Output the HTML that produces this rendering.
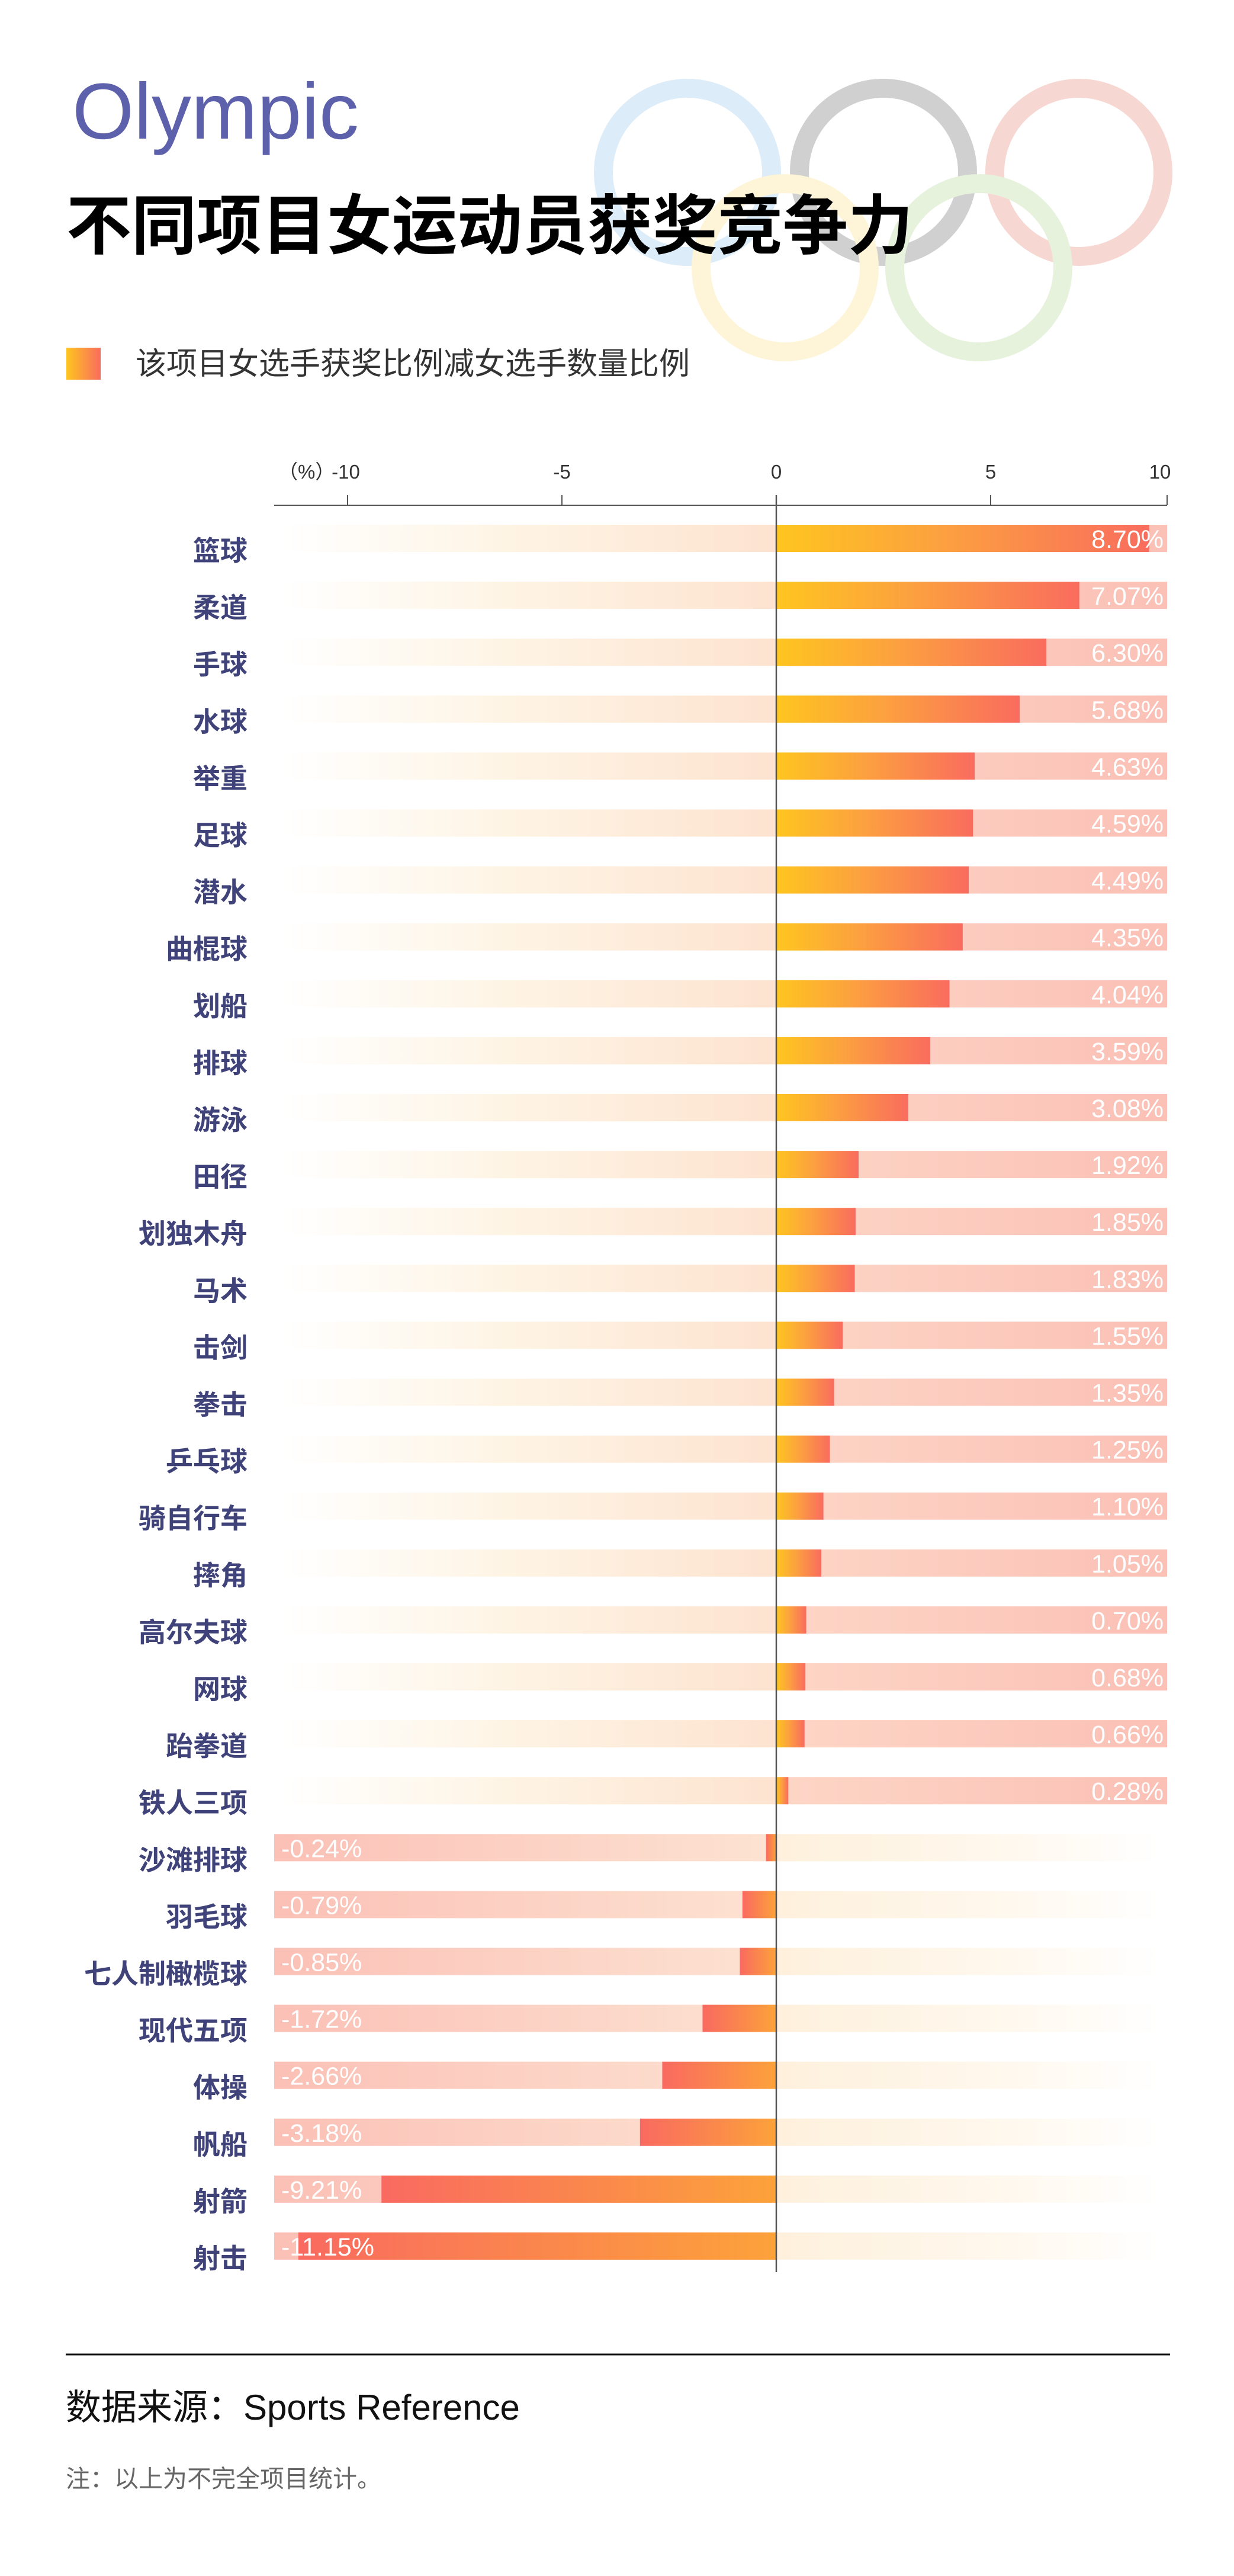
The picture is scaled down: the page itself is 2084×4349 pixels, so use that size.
<!DOCTYPE html>
<html><head><meta charset="utf-8">
<style>
html,body{margin:0;padding:0;background:#fff;}
svg{display:block;}
</style></head>
<body>
<svg id="chart" width="2084" height="4349" viewBox="0 0 2084 4349" xmlns="http://www.w3.org/2000/svg">
<defs>
  <linearGradient id="posBar" x1="0" y1="0" x2="1" y2="0"><stop offset="0" stop-color="#fec51f"/><stop offset="0.45" stop-color="#fca040"/><stop offset="1" stop-color="#f96c5e"/></linearGradient>
  <linearGradient id="negBar" x1="0" y1="0" x2="1" y2="0"><stop offset="0" stop-color="#f96a60"/><stop offset="1" stop-color="#fca23a"/></linearGradient>
  <linearGradient id="pinkR" gradientUnits="userSpaceOnUse" x1="1311" y1="0" x2="1971" y2="0"><stop offset="0" stop-color="#fdd6c6"/><stop offset="1" stop-color="#fbc0b6"/></linearGradient>
  <linearGradient id="pinkL" gradientUnits="userSpaceOnUse" x1="463" y1="0" x2="1311" y2="0"><stop offset="0" stop-color="#fbc0b6"/><stop offset="1" stop-color="#fde3d2"/></linearGradient>
  <linearGradient id="faintL" gradientUnits="userSpaceOnUse" x1="480" y1="0" x2="1311" y2="0"><stop offset="0" stop-color="#fff" stop-opacity="1"/><stop offset="0.45" stop-color="#fef4e4"/><stop offset="1" stop-color="#fde3d0"/></linearGradient>
  <linearGradient id="faintR" gradientUnits="userSpaceOnUse" x1="1311" y1="0" x2="1960" y2="0"><stop offset="0" stop-color="#fef0dc"/><stop offset="0.6" stop-color="#fff8ee"/><stop offset="1" stop-color="#fff"/></linearGradient>
  <linearGradient id="legendG" x1="0" y1="0" x2="1" y2="0"><stop offset="0" stop-color="#fec51f"/><stop offset="1" stop-color="#f96c5e"/></linearGradient>
</defs>
<g fill="none" stroke-width="32">
  <circle cx="1161" cy="291" r="142" stroke="#dcecf8"/>
  <circle cx="1492" cy="291" r="142" stroke="#d0d0d0"/>
  <circle cx="1822" cy="291" r="142" stroke="#f7d7d2"/>
  <circle cx="1326" cy="452" r="142" stroke="#fef4d8"/>
  <circle cx="1653" cy="452" r="142" stroke="#e7f2dd"/>
</g>
<text x="122" y="234" font-family="Liberation Sans, sans-serif" font-size="134" fill="#5d60aa">Olympic</text>
<text x="112" y="420" font-family="Liberation Sans, Noto Sans CJK SC, sans-serif" font-size="110" font-weight="bold" fill="#000">不同项目女运动员获奖竞争力</text>
<rect x="112" y="587" width="58" height="54" fill="url(#legendG)"/>
<text x="229" y="632" font-family="Liberation Sans, Noto Sans CJK SC, sans-serif" font-size="52" fill="#333">该项目女选手获奖比例减女选手数量比例</text>
<text x="470" y="808" font-family="Liberation Sans, Noto Sans CJK SC, sans-serif" font-size="33" fill="#333">（%）</text>
<g id="axis"></g>
<g id="bars"></g>
<line x1="111" y1="3975" x2="1976" y2="3975" stroke="#111" stroke-width="3"/>
<text x="111" y="4085" font-family="Liberation Sans, Noto Sans CJK SC, sans-serif" font-size="60" fill="#111">数据来源：Sports Reference</text>
<text x="111" y="4199" font-family="Liberation Sans, Noto Sans CJK SC, sans-serif" font-size="41" fill="#666">注：以上为不完全项目统计。</text>
</svg>
<script>
const categories = ["篮球","柔道","手球","水球","举重","足球","潜水","曲棍球","划船","排球","游泳","田径","划独木舟","马术","击剑","拳击","乒乓球","骑自行车","摔角","高尔夫球","网球","跆拳道","铁人三项","沙滩排球","羽毛球","七人制橄榄球","现代五项","体操","帆船","射箭","射击"];
const values = [8.70,7.07,6.30,5.68,4.63,4.59,4.49,4.35,4.04,3.59,3.08,1.92,1.85,1.83,1.55,1.35,1.25,1.10,1.05,0.70,0.68,0.66,0.28,-0.24,-0.79,-0.85,-1.72,-2.66,-3.18,-9.21,-11.15];
const tickValues = [-10,-5,0,5,10];
const tickLabels = ["-10","-5","0","5","10"];

const NS = "http://www.w3.org/2000/svg";
const X0 = 1311, UNIT = 72.4, XL = 463, XR = 1971;
const x = v => X0 + v * UNIT;
const ROW0 = 909, STEP = 96.1, BH = 46;
const y = i => ROW0 + i * STEP;
function mk(tag, attrs, parent){const e=document.createElementNS(NS,tag);for(const k in attrs)e.setAttribute(k,attrs[k]);parent.appendChild(e);return e;}
const axis = document.getElementById('axis');
const bars = document.getElementById('bars');
const axLine = mk('line',{x1:XL,y1:853,x2:XR,y2:853,stroke:'#555','stroke-width':2},axis);


tickValues.forEach((t,i)=>{
  const tx = Math.min(x(t), XR);
  const tk = mk('line',{x1:tx,y1:836,x2:tx,y2:853,stroke:'#555','stroke-width':2},axis);
  
  
  const lbx = t===10 ? XR-12 : (t===-10 ? x(t)-3 : x(t));
  const lb = mk('text',{x:lbx,y:808,'text-anchor':'middle','font-family':'Liberation Sans, sans-serif','font-size':33,fill:'#333'},axis);
  lb.textContent = tickLabels[i];
  
  
});
categories.forEach((c,i)=>{
  const v = values[i], top = y(i) - BH/2;
  const g = mk('g',{},bars);
  
  
  if (v >= 0) {
    mk('rect',{x:XL,y:top,width:X0-XL,height:BH,fill:'url(#faintL)'},g);
    mk('rect',{x:x(v),y:top,width:XR-x(v),height:BH,fill:'url(#pinkR)'},g);
    const b = mk('rect',{x:X0,y:top,width:x(v)-X0,height:BH,fill:'url(#posBar)'},g);
    
    
    const t = mk('text',{x:XR-6,y:y(i)+16,'text-anchor':'end','font-family':'Liberation Sans, sans-serif','font-size':43,fill:'#fff'},g);
    t.textContent = v.toFixed(2)+'%';
    
    
  } else {
    mk('rect',{x:X0,y:top,width:XR-X0,height:BH,fill:'url(#faintR)'},g);
    mk('rect',{x:XL,y:top,width:x(v)-XL,height:BH,fill:'url(#pinkL)'},g);
    const b = mk('rect',{x:x(v),y:top,width:X0-x(v),height:BH,fill:'url(#negBar)'},g);
    
    
    const t = mk('text',{x:XL+12,y:y(i)+16,'font-family':'Liberation Sans, sans-serif','font-size':43,fill:'#fff'},g);
    t.textContent = v.toFixed(2)+'%';
    
    
  }
  const l = mk('text',{x:418,y:y(i)+37,'text-anchor':'end','font-family':'Liberation Sans, Noto Sans CJK SC, sans-serif','font-size':46,'font-weight':'600',fill:'#404379'},g);
  l.textContent = c;
  
  
});
const zl = mk('line',{x1:X0,y1:836,x2:X0,y2:3836,stroke:'#555','stroke-width':2.5},bars);


</script>
</body></html>
